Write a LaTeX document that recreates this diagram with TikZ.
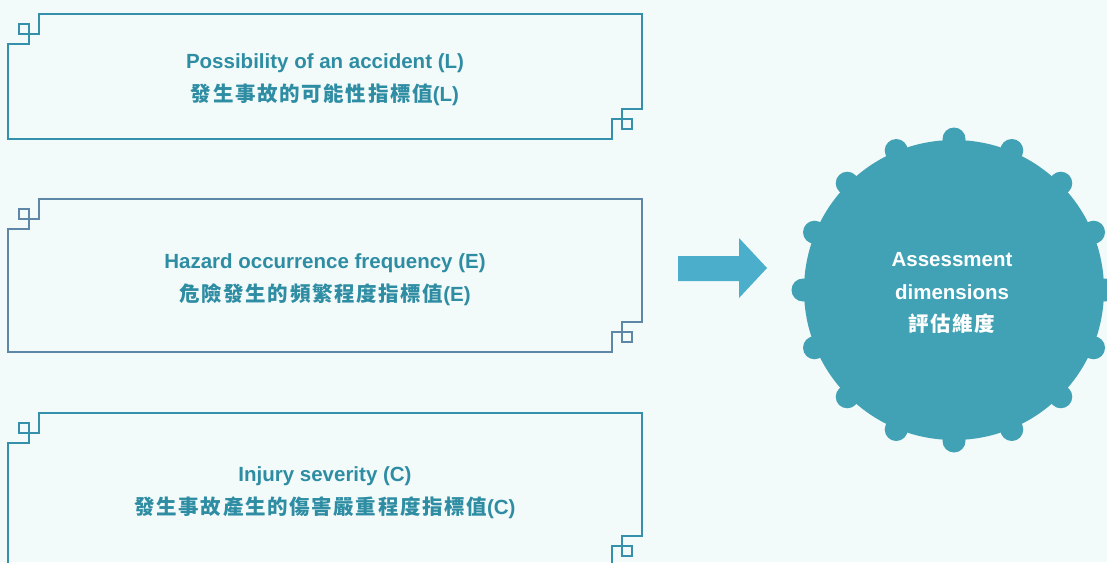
\documentclass[tikz,border=0pt]{standalone}
\usepackage{fontspec}
\setmainfont{Liberation Sans}
\newfontfamily\cjk{Noto Sans CJK TC}[LetterSpace=8]
\definecolor{bgc}{HTML}{F2FAFA}
\definecolor{txtc}{HTML}{2E8DA3}
\definecolor{framea}{HTML}{3590AB}
\definecolor{frameb}{HTML}{5E87A7}
\definecolor{circc}{HTML}{40A2B4}
\definecolor{arrowc}{HTML}{4BAFCC}
\newcommand\decoframe[3]{%
  \draw[frameline,#3] (8,#2) -- (8,#1+30) -- (29,#1+30) -- (29,#1+10) -- (19,#1+10) -- (19,#1+20) -- (39,#1+20) -- (39,#1)
    -- (642,#1) -- (642,#2-30) -- (622,#2-30) -- (622,#2-10) -- (632,#2-10) -- (632,#2-20) -- (612,#2-20) -- (612,#2) -- cycle;}
\begin{document}
\begin{tikzpicture}[x=1pt,y=-1pt,
  frameline/.style={line width=1.5pt,line join=miter},
  lbl/.style={anchor=base,inner sep=0pt,text=txtc,font=\fontsize{20.5}{24}\selectfont\bfseries},
  clbl/.style={anchor=base,inner sep=0pt,text=white,font=\fontsize{20.5}{24}\selectfont\bfseries}]
\fill[bgc] (0,0) rectangle (1107,562);
\useasboundingbox (0,0) rectangle (1107,562);
\clip (0,0) rectangle (1107,562);
% frames
\decoframe{14}{139}{framea}
\decoframe{199}{352}{frameb}
\decoframe{413}{566}{framea}
% labels
\node[lbl] (l1a) at (325,68.5) {Possibility of an accident (L)};
\node[lbl] (l1b) at (325,101) {{\cjk 發生事故的可能性指標值}(L)};
\node[lbl] (l2a) at (325,268.5) {Hazard occurrence frequency (E)};
\node[lbl] (l2b) at (325,301) {{\cjk 危險發生的頻繁程度指標值}(E)};
\node[lbl] (l3a) at (325,481.5) {Injury severity (C)};
\node[lbl] (l3b) at (325,514) {{\cjk 發生事故產生的傷害嚴重程度指標值}(C)};
% arrow
\fill[arrowc] (678,256) -- (739,256) -- (739,238) -- (767,268) -- (739,298) -- (739,281) -- (678,281) -- cycle;
% circle
\node[circle,fill=circc,minimum size=300pt,inner sep=0pt] (c) at (954,290) {};
\foreach \a in {0,22.5,...,337.5}
  \fill[circc] (954,290) ++(\a:151) circle[radius=11.5pt];
\node[clbl] (ca) at (952,266) {Assessment};
\node[clbl] (cb) at (952,299) {dimensions};
\node[clbl] (cc) at (952,331.5) {\cjk 評估維度};
\end{tikzpicture}
\end{document}
